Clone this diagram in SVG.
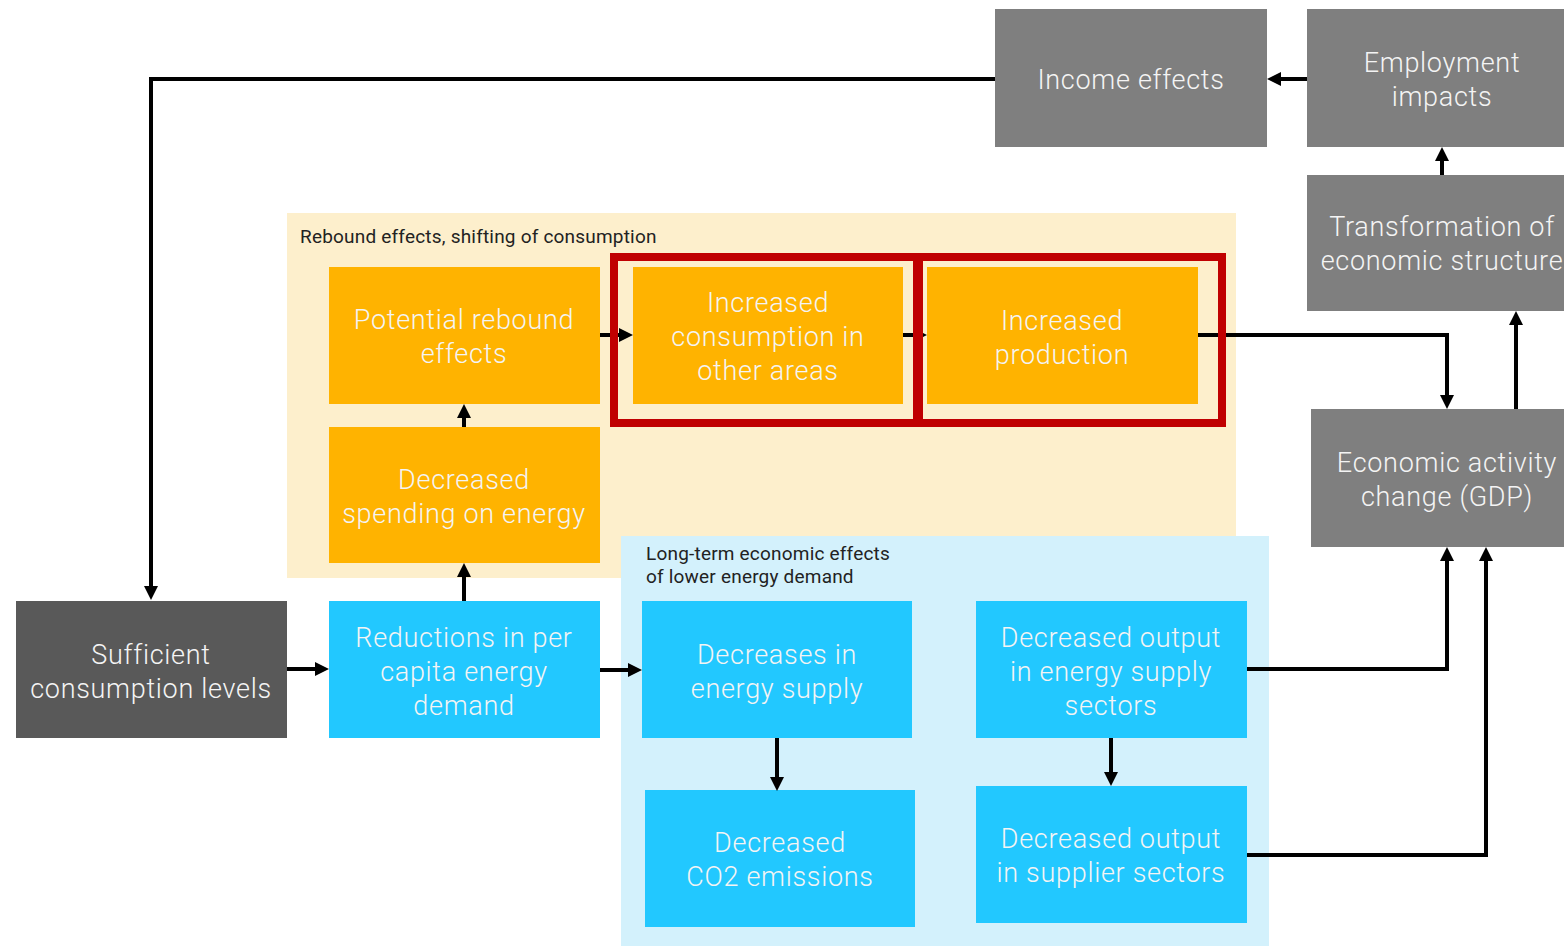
<svg xmlns="http://www.w3.org/2000/svg" width="1564" height="946" viewBox="0 0 1564 946">
<style>
.gray{fill:#7f7f7f}
.dark{fill:#595959}
.orange{fill:#ffb300}
.blue{fill:#22c8ff}
.t{font-family:Roboto,"Liberation Sans",sans-serif;font-size:27px;fill:#f4f4f4;text-anchor:middle;font-weight:300;letter-spacing:0.7px}
.lbl{font-family:Roboto,"Liberation Sans",sans-serif;font-size:19px;fill:#222;letter-spacing:0.2px}
.c{fill:none;stroke:#000;stroke-width:4;marker-end:url(#ah)}
.red{fill:none;stroke:#c00000;stroke-width:8}
</style>
<defs>
<marker id="ah" viewBox="0 0 14 14" markerWidth="14" markerHeight="14" refX="0" refY="7" orient="auto" markerUnits="userSpaceOnUse">
<path d="M0,0 L14,7 L0,14 z" fill="#000"/>
</marker>
</defs>
<rect width="1564" height="946" fill="#fff"/>
<g id="panel-rebound">
<rect x="287" y="213" width="949" height="365" fill="#fdefcc"/>
<text class="lbl" x="300" y="243">Rebound effects, shifting of consumption</text>
</g>
<g id="panel-longterm">
<rect x="621" y="536" width="648" height="410" fill="#d3f1fc"/>
<text class="lbl" x="646" y="560">Long-term economic effects</text>
<text class="lbl" x="646" y="583">of lower energy demand</text>
</g>
<g id="income">
<rect class="gray" x="995" y="9" width="272" height="138"/>
<text class="t" x="1131" y="89">Income effects</text>
</g>
<g id="employment">
<rect class="gray" x="1307" y="9" width="257" height="138"/>
<text class="t" x="1442" y="72">Employment</text>
<text class="t" x="1442" y="106">impacts</text>
</g>
<g id="transformation">
<rect class="gray" x="1307" y="175" width="257" height="136"/>
<text class="t" x="1442" y="236">Transformation of</text>
<text class="t" x="1442" y="270">economic structure</text>
</g>
<g id="economic">
<rect class="gray" x="1311" y="409" width="253" height="138"/>
<text class="t" x="1447" y="472">Economic activity</text>
<text class="t" x="1447" y="506">change (GDP)</text>
</g>
<g id="sufficient">
<rect class="dark" x="16" y="601" width="271" height="137"/>
<text class="t" x="151" y="664">Sufficient</text>
<text class="t" x="151" y="698">consumption levels</text>
</g>
<g id="reductions">
<rect class="blue" x="329" y="601" width="271" height="137"/>
<text class="t" x="464" y="647">Reductions in per</text>
<text class="t" x="464" y="681">capita energy</text>
<text class="t" x="464" y="715">demand</text>
</g>
<g id="spending">
<rect class="orange" x="329" y="427" width="271" height="136"/>
<text class="t" x="464" y="489">Decreased</text>
<text class="t" x="464" y="523">spending on energy</text>
</g>
<g id="potential">
<rect class="orange" x="329" y="267" width="271" height="137"/>
<text class="t" x="464" y="329">Potential rebound</text>
<text class="t" x="464" y="363">effects</text>
</g>
<g id="consumption">
<rect class="orange" x="633" y="267" width="270" height="137"/>
<text class="t" x="768" y="312">Increased</text>
<text class="t" x="768" y="346">consumption in</text>
<text class="t" x="768" y="380">other areas</text>
</g>
<g id="production">
<rect class="orange" x="927" y="267" width="271" height="137"/>
<text class="t" x="1062" y="330">Increased</text>
<text class="t" x="1062" y="364">production</text>
</g>
<g id="supply">
<rect class="blue" x="642" y="601" width="270" height="137"/>
<text class="t" x="777" y="664">Decreases in</text>
<text class="t" x="777" y="698">energy supply</text>
</g>
<g id="output-energy">
<rect class="blue" x="976" y="601" width="271" height="137"/>
<text class="t" x="1111" y="647">Decreased output</text>
<text class="t" x="1111" y="681">in energy supply</text>
<text class="t" x="1111" y="715">sectors</text>
</g>
<g id="co2">
<rect class="blue" x="645" y="790" width="270" height="137"/>
<text class="t" x="780" y="852">Decreased</text>
<text class="t" x="780" y="886">CO2 emissions</text>
</g>
<g id="output-supplier">
<rect class="blue" x="976" y="786" width="271" height="137"/>
<text class="t" x="1111" y="848">Decreased output</text>
<text class="t" x="1111" y="882">in supplier sectors</text>
</g>
<g id="connectors">
<path class="c" d="M1307,79 H1281"/>
<path class="c" d="M1442,175 V161"/>
<path class="c" d="M1516,409 V325"/>
<path class="c" d="M1198,335 H1447 V395"/>
<path class="c" d="M1247,669 H1447 V561"/>
<path class="c" d="M1247,855 H1486 V561"/>
<path class="c" d="M995,79 H151 V586"/>
<path class="c" d="M287,669 H315"/>
<path class="c" d="M600,670 H628"/>
<path class="c" d="M464,601 V577"/>
<path class="c" d="M464,427 V418"/>
<path class="c" d="M600,335 H619"/>
<path class="c" d="M903,335 H913"/>
<path class="c" d="M777,738 V777"/>
<path class="c" d="M1111,738 V772"/>
</g>
<g id="highlights">
<rect class="red" x="614" y="257" width="305" height="166"/>
<rect class="red" x="917" y="257" width="305" height="166"/>
</g>
</svg>
